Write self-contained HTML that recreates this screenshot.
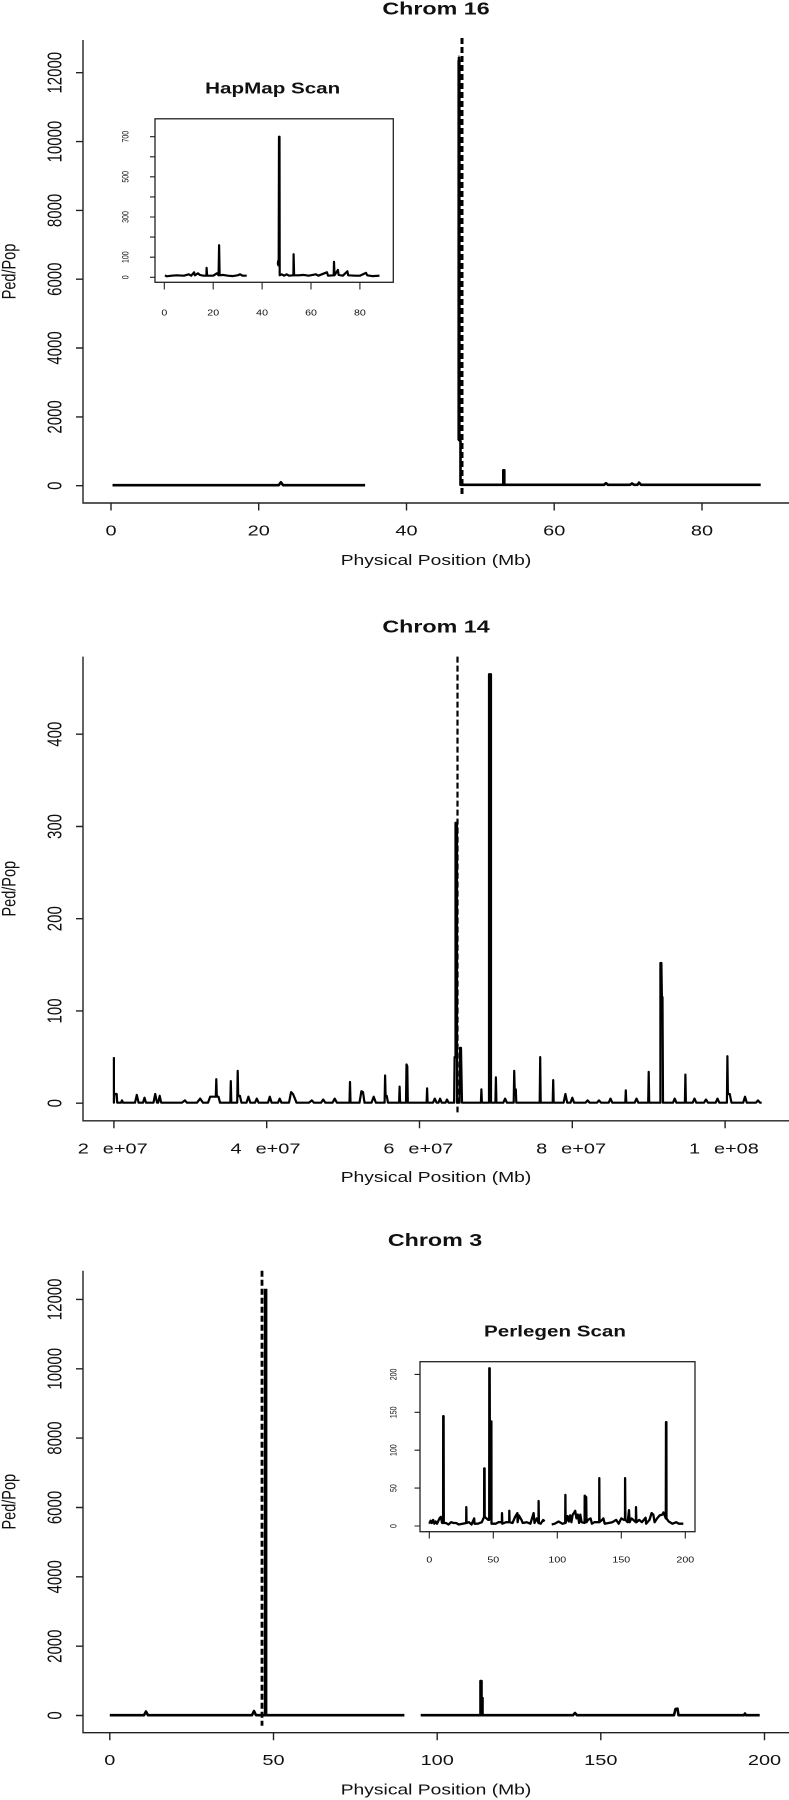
<!DOCTYPE html>
<html>
<head>
<meta charset="utf-8">
<style>
html,body{margin:0;padding:0;background:#fff;}
svg{display:block;}
text{font-family:"Liberation Sans",Arial,sans-serif;fill:#111;}
.t{font-size:17.5px;font-weight:bold;}
.ax{font-size:14.5px;}
.tk{font-size:15px;}
.it{font-size:15.5px;font-weight:bold;}
.sm{font-size:8px;}
.sy{font-size:7px;}
</style>
</head>
<body>
<svg width="789" height="1800" viewBox="0 0 789 1800" xmlns="http://www.w3.org/2000/svg">
<rect width="789" height="1800" fill="#fff"/>

<!-- ================= CHART 1 : Chrom 16 ================= -->
<text class="t" text-anchor="middle" transform="translate(436,14.5) scale(1.33,1)">Chrom 16</text>
<g stroke="#222" stroke-width="1.4" fill="none">
  <path d="M83,40V503H789"/>
  <path d="M76,485.7H83M76,416.9H83M76,348H83M76,279.2H83M76,210.4H83M76,141.6H83M76,72.7H83"/>
  <path d="M111,503V510.5M258.7,503V510.5M406.5,503V510.5M554.2,503V510.5M702,503V510.5"/>
</g>
<g class="tk" text-anchor="middle">
  <text transform="translate(61.7,485.7) scale(1.33,1) rotate(-90)">0</text>
  <text transform="translate(61.7,416.9) scale(1.33,1) rotate(-90)">2000</text>
  <text transform="translate(61.7,348) scale(1.33,1) rotate(-90)">4000</text>
  <text transform="translate(61.7,279.2) scale(1.33,1) rotate(-90)">6000</text>
  <text transform="translate(61.7,210.4) scale(1.33,1) rotate(-90)">8000</text>
  <text transform="translate(61.7,141.6) scale(1.33,1) rotate(-90)">10000</text>
  <text transform="translate(61.7,72.7) scale(1.33,1) rotate(-90)">12000</text>
  <text transform="translate(111,535.4) scale(1.33,1)">0</text>
  <text transform="translate(258.7,535.4) scale(1.33,1)">20</text>
  <text transform="translate(406.5,535.4) scale(1.33,1)">40</text>
  <text transform="translate(554.2,535.4) scale(1.33,1)">60</text>
  <text transform="translate(702,535.4) scale(1.33,1)">80</text>
</g>
<text class="ax" text-anchor="middle" transform="translate(15.4,271.5) scale(1.33,1) rotate(-90)">Ped/Pop</text>
<text class="ax" text-anchor="middle" transform="translate(436,564.9) scale(1.33,1)">Physical Position (Mb)</text>

<g stroke="#000" fill="none" stroke-width="2.6" stroke-linejoin="round">
  <path d="M112.5,485.2L278.7,485.2L280.9,482.3L283.1,485.2L365.1,485.2"/>
  <path d="M459,57L459,440L460.5,441L460.5,484.8L503.3,484.8L503.3,470.3L504.3,470.3L504.3,484.8L604,484.8L606,483.2L608,484.8L630,484.8L632,483.5L634,484.8L637.5,484.8L639,482.6L641,484.8L760.7,484.8"/>
  <path d="M458.5,57H459.5" stroke-width="3"/>
</g>
<path d="M459,60V440" stroke="#000" stroke-width="3.2"/>
<path d="M462,38V495" stroke="#000" stroke-width="3" stroke-dasharray="6 3"/>

<!-- Inset HapMap -->
<text class="it" text-anchor="middle" transform="translate(272.7,93.3) scale(1.33,1)">HapMap Scan</text>
<rect x="155" y="118.8" width="238.3" height="163.5" fill="none" stroke="#222" stroke-width="1.3"/>
<g stroke="#222" stroke-width="1.1" fill="none">
  <path d="M150,277.3H155M150,257.2H155M150,237.1H155M150,217H155M150,196.9H155M150,176.8H155M150,156.8H155M150,136.7H155"/>
  <path d="M164.3,282.3V289.5M213.2,282.3V289.5M262.1,282.3V289.5M311,282.3V289.5M359.9,282.3V289.5"/>
</g>
<g class="sy" text-anchor="middle">
  <text transform="translate(128.3,277.3) scale(1.33,1) rotate(-90)">0</text>
  <text transform="translate(128.3,257.2) scale(1.33,1) rotate(-90)">100</text>
  <text transform="translate(128.3,217) scale(1.33,1) rotate(-90)">300</text>
  <text transform="translate(128.3,176.8) scale(1.33,1) rotate(-90)">500</text>
  <text transform="translate(128.3,136.7) scale(1.33,1) rotate(-90)">700</text>
</g>
<g class="sm" text-anchor="middle">
  <text transform="translate(164.3,315.7) scale(1.33,1)">0</text>
  <text transform="translate(213.2,315.7) scale(1.33,1)">20</text>
  <text transform="translate(262.1,315.7) scale(1.33,1)">40</text>
  <text transform="translate(311,315.7) scale(1.33,1)">60</text>
  <text transform="translate(359.9,315.7) scale(1.33,1)">80</text>
</g>
<g stroke="#000" fill="none" stroke-width="2.2" stroke-linejoin="round">
  <polyline points="165,275.3 166.7,276.3 171.6,275.7 176.5,275.3 183.9,275.7 188.8,274.3 191.2,275.7 194.1,272.3 194.9,275.3 198,273.3 199.8,274.9 203.4,275.7 206.4,275.7 206.6,267.9 207.1,275.7 213.2,275.7 216.9,273.3 218.6,275.3 219.1,245.2 219.6,275.3 223,274.9 227.9,275.7 232.8,276.1 237.7,275.3 240.1,274.3 242.5,275.7 246.7,275.7"/>
  <polyline points="278.7,263.2 279,136.7 279.5,136.7 279.7,275.3 281.7,274.3 284.1,275.7 286.6,274.3 289,275.7 293.4,275.3 293.6,254.2 294.1,275.3 298.8,275.3 303.7,274.9 308.6,275.7 315.9,274.3 318.3,275.7 326.9,272.3 328.1,275.7 333.7,275.3 334,261.8 334.5,275.3 337.9,269.9 338.6,274.9 342.8,275.7 347.4,271.3 348.2,275.3 355,275.7 359.9,275.7 366,272.9 367.2,275.3 372.1,276.1 379.5,275.7"/>
</g>
<ellipse cx="278.4" cy="263" rx="1.6" ry="3.5" fill="#000"/>

<!-- ================= CHART 2 : Chrom 14 ================= -->
<text class="t" text-anchor="middle" transform="translate(436,632.5) scale(1.33,1)">Chrom 14</text>
<g stroke="#222" stroke-width="1.4" fill="none">
  <path d="M83,656.6V1120.8H789"/>
  <path d="M76,1103.2H83M76,1010.95H83M76,918.7H83M76,826.5H83M76,734.2H83"/>
  <path d="M113.9,1120.8V1128.3M266.7,1120.8V1128.3M419.5,1120.8V1128.3M572.3,1120.8V1128.3M725.1,1120.8V1128.3"/>
</g>
<g class="tk" text-anchor="middle">
  <text transform="translate(61.7,1103.2) scale(1.33,1) rotate(-90)">0</text>
  <text transform="translate(61.7,1010.95) scale(1.33,1) rotate(-90)">100</text>
  <text transform="translate(61.7,918.7) scale(1.33,1) rotate(-90)">200</text>
  <text transform="translate(61.7,826.5) scale(1.33,1) rotate(-90)">300</text>
  <text transform="translate(61.7,734.2) scale(1.33,1) rotate(-90)">400</text>
  <text transform="translate(83.3,1153.3) scale(1.33,1)">2</text>
  <text transform="translate(125.2,1153.3) scale(1.33,1)">e+07</text>
  <text transform="translate(236.1,1153.3) scale(1.33,1)">4</text>
  <text transform="translate(278,1153.3) scale(1.33,1)">e+07</text>
  <text transform="translate(388.9,1153.3) scale(1.33,1)">6</text>
  <text transform="translate(430.8,1153.3) scale(1.33,1)">e+07</text>
  <text transform="translate(541.7,1153.3) scale(1.33,1)">8</text>
  <text transform="translate(583.6,1153.3) scale(1.33,1)">e+07</text>
  <text transform="translate(694.5,1153.3) scale(1.33,1)">1</text>
  <text transform="translate(736.4,1153.3) scale(1.33,1)">e+08</text>
</g>
<text class="ax" text-anchor="middle" transform="translate(15.4,888.7) scale(1.33,1) rotate(-90)">Ped/Pop</text>
<text class="ax" text-anchor="middle" transform="translate(436,1182.1) scale(1.33,1)">Physical Position (Mb)</text>

<path fill="none" stroke="#000" stroke-width="2.2" stroke-linejoin="round" d="M113.9,1057.1 L113.9,1102.7 L114.3,1094 L116.7,1094 L117.2,1102.7 L121,1102.7 L122,1100.4 L123,1102.7 L135,1102.7 L136.8,1094.9 L138.6,1102.7 L143,1102.7 L144.5,1097.7 L146,1102.7 L153.5,1102.7 L155.2,1094 L157,1102.7 L158.2,1102.7 L159.7,1095.8 L161.2,1102.7 L182,1102.7 L184.9,1100.4 L187,1102.7 L197,1102.7 L200.2,1098.6 L203,1102.7 L208,1102.7 L210.2,1096.7 L215.8,1096.7 L216.3,1079.2 L216.8,1096.7 L218.5,1096.7 L220,1102.7 L230.3,1102.7 L230.8,1081.1 L231.3,1102.7 L237.2,1102.7 L237.7,1070.9 L238.2,1096 L239.9,1095.8 L241.5,1102.7 L246.5,1102.7 L248.4,1096.7 L250.3,1102.7 L255,1102.7 L256.8,1098.6 L258.6,1102.7 L268,1102.7 L269.8,1096.7 L271.6,1102.7 L278,1102.7 L279.7,1098.6 L281.4,1102.7 L289,1102.7 L291.1,1092.1 L293,1094 L294.9,1098.6 L296.5,1102.7 L309,1102.7 L311.8,1100.4 L314,1102.7 L321,1102.7 L323.2,1099.5 L325.4,1102.7 L332.5,1102.7 L334.7,1098.6 L336.9,1102.7 L349.5,1102.7 L350,1082 L350.5,1102.7 L359.5,1102.7 L361.4,1091.2 L363,1092.1 L364.5,1102.7 L371.5,1102.7 L373.7,1096.7 L375.9,1102.7 L384.6,1102.7 L385.1,1075.5 L385.6,1095.8 L386.7,1095.8 L388,1102.7 L399.1,1102.7 L399.6,1086.6 L400.1,1102.7 L406,1102.7 L406.5,1064.5 L407.3,1066.3 L407.8,1102.7 L426.6,1102.7 L427.1,1088.4 L427.6,1102.7 L433,1102.7 L434.8,1098.6 L436.6,1102.7 L438.5,1102.7 L440.1,1098.6 L441.7,1102.7 L445.5,1102.7 L447,1099.5 L448.5,1102.7 L454.1,1102.7 L454.6,1057.1 L455.5,1057.1 L455.5,822.8 L457,822.8 L457,1102.7 L459.5,1102.7 L460,1047.9 L461,1047.9 L461.5,1075.5 L462,1102.7 L480.9,1102.7 L481.4,1089.4 L481.9,1102.7 L489,1102.7 L489,674.2 L491,674.2 L491,1102.7 L495.4,1102.7 L495.9,1077.4 L496.4,1102.7 L503.3,1102.7 L505.1,1098.6 L506.9,1102.7 L513.7,1102.7 L514.2,1070.9 L514.7,1089.4 L515.8,1089.4 L516.3,1102.7 L539.7,1102.7 L540.2,1057.1 L540.7,1102.7 L552.7,1102.7 L553.2,1080.1 L553.7,1102.7 L563.6,1102.7 L565.4,1094 L567.2,1102.7 L570.5,1102.7 L572.3,1097.7 L574.1,1102.7 L585.5,1102.7 L587.6,1100.4 L589.7,1102.7 L597,1102.7 L599,1100.4 L601,1102.7 L608.7,1102.7 L610.5,1098.6 L612.3,1102.7 L625.3,1102.7 L625.8,1090.3 L626.3,1102.7 L634.7,1102.7 L636.5,1098.6 L638.3,1102.7 L648.2,1102.7 L648.7,1071.8 L649.2,1102.7 L660.4,1102.7 L660.4,963 L661.4,963 L661.9,997.1 L662.5,997.1 L663,1102.7 L673,1102.7 L674.7,1098.6 L676.4,1102.7 L684.9,1102.7 L685.4,1074.6 L685.9,1102.7 L692.7,1102.7 L694.5,1098.6 L696.3,1102.7 L704,1102.7 L706,1099.5 L708,1102.7 L715.7,1102.7 L717.5,1098.6 L719.3,1102.7 L726.9,1102.7 L727.4,1056.2 L727.9,1094 L729.7,1094 L731.5,1102.7 L743.2,1102.7 L745,1096.7 L746.8,1102.7 L756,1102.7 L758,1100.4 L760,1102.7 L761.7,1102.7"/>
<path d="M457.5,656.6V1112.4" stroke="#000" stroke-width="2.2" stroke-dasharray="6 3"/>

<!-- ================= CHART 3 : Chrom 3 ================= -->
<text class="t" text-anchor="middle" transform="translate(435,1245.9) scale(1.33,1)">Chrom 3</text>
<g stroke="#222" stroke-width="1.4" fill="none">
  <path d="M83,1270.7V1732.7H789"/>
  <path d="M76,1715.5H83M76,1646.2H83M76,1576.8H83M76,1507.5H83M76,1438.1H83M76,1368.8H83M76,1299.4H83"/>
  <path d="M109.8,1732.7V1740.2M273.5,1732.7V1740.2M437.2,1732.7V1740.2M600.8,1732.7V1740.2M764.5,1732.7V1740.2"/>
</g>
<g class="tk" text-anchor="middle">
  <text transform="translate(61.7,1715.5) scale(1.33,1) rotate(-90)">0</text>
  <text transform="translate(61.7,1646.2) scale(1.33,1) rotate(-90)">2000</text>
  <text transform="translate(61.7,1576.8) scale(1.33,1) rotate(-90)">4000</text>
  <text transform="translate(61.7,1507.5) scale(1.33,1) rotate(-90)">6000</text>
  <text transform="translate(61.7,1438.1) scale(1.33,1) rotate(-90)">8000</text>
  <text transform="translate(61.7,1368.8) scale(1.33,1) rotate(-90)">10000</text>
  <text transform="translate(61.7,1299.4) scale(1.33,1) rotate(-90)">12000</text>
  <text transform="translate(109.8,1765.2) scale(1.33,1)">0</text>
  <text transform="translate(273.5,1765.2) scale(1.33,1)">50</text>
  <text transform="translate(437.2,1765.2) scale(1.33,1)">100</text>
  <text transform="translate(600.8,1765.2) scale(1.33,1)">150</text>
  <text transform="translate(764.5,1765.2) scale(1.33,1)">200</text>
</g>
<text class="ax" text-anchor="middle" transform="translate(15.4,1501.7) scale(1.33,1) rotate(-90)">Ped/Pop</text>
<text class="ax" text-anchor="middle" transform="translate(436,1794.7) scale(1.33,1)">Physical Position (Mb)</text>

<g stroke="#000" fill="none" stroke-width="2.6" stroke-linejoin="round">
  <path d="M109.8,1715.2L144,1715.2L146,1711.5L148,1715.2L252,1715.2L254,1711L256,1715.2L404.4,1715.2"/>
  <path d="M420.7,1715.2L480.5,1715.2L480.5,1681L481.5,1681L481.5,1698L482.5,1698L482.5,1715.2L573,1715.2L575,1713L577,1715.2L674,1715.2L675.5,1709L677.5,1708.7L678.5,1715.2L744,1715.2L745,1713.5L746,1715.2L759.7,1715.2"/>
</g>
<path d="M265.6,1288.7V1715" stroke="#000" stroke-width="3.6"/>
<path d="M262,1270.7V1725.8" stroke="#000" stroke-width="2.8" stroke-dasharray="6 3"/>

<!-- Inset Perlegen -->
<text class="it" text-anchor="middle" transform="translate(555,1336.5) scale(1.33,1)">Perlegen Scan</text>
<rect x="420" y="1361.7" width="275" height="170" fill="none" stroke="#222" stroke-width="1.3"/>
<g stroke="#222" stroke-width="1.1" fill="none">
  <path d="M414.5,1526H420M414.5,1488.1H420M414.5,1450.2H420M414.5,1412.3H420M414.5,1374.4H420"/>
  <path d="M429.3,1531.7V1538.5M493.3,1531.7V1538.5M557.3,1531.7V1538.5M621.3,1531.7V1538.5M685.3,1531.7V1538.5"/>
</g>
<g class="sy" text-anchor="middle">
  <text transform="translate(396.3,1526) scale(1.33,1) rotate(-90)">0</text>
  <text transform="translate(396.3,1488.1) scale(1.33,1) rotate(-90)">50</text>
  <text transform="translate(396.3,1450.2) scale(1.33,1) rotate(-90)">100</text>
  <text transform="translate(396.3,1412.3) scale(1.33,1) rotate(-90)">150</text>
  <text transform="translate(396.3,1374.4) scale(1.33,1) rotate(-90)">200</text>
</g>
<g class="sm" text-anchor="middle">
  <text transform="translate(429.3,1562.5) scale(1.33,1)">0</text>
  <text transform="translate(493.3,1562.5) scale(1.33,1)">50</text>
  <text transform="translate(557.3,1562.5) scale(1.33,1)">100</text>
  <text transform="translate(621.3,1562.5) scale(1.33,1)">150</text>
  <text transform="translate(685.3,1562.5) scale(1.33,1)">200</text>
</g>
<g stroke="#000" fill="none" stroke-width="2.3" stroke-linejoin="round">
  <polyline points="429.3,1523.7 430.6,1520.7 431.9,1523 433.1,1519.9 434.4,1523.7 435.7,1521.5 437,1523.7 439.5,1518.4 440.8,1516.9 442.1,1523 443.1,1523 443.2,1416.1 443.6,1416.1 443.8,1523 445.9,1523 448.5,1524.5 451.1,1522.2 453.6,1523 456.2,1523 458.7,1524.5 462.6,1523.7 466.2,1523 466.3,1507.1 466.5,1523 469,1522.2 471.5,1524.5 474.2,1518.4 474.5,1523.7 477.9,1523.7 481.8,1522.2 484.1,1516.9 484.2,1468.4 484.6,1468.4 484.7,1516.9 488.2,1519.9 489.2,1519.9 489.3,1368.3 489.7,1368.3 490,1510.8 490.9,1510.8 491,1421.4 491.4,1421.4 491.5,1523.7 495.9,1523.7 498.4,1522.2 501.9,1522.2 502,1513.1 502.3,1523.7 506.1,1522.2 509.2,1522.2 509.3,1510.8 509.6,1522.2 512.5,1523 515.1,1516.9 517.4,1513.1 517.6,1522.2 518.9,1515.4 521.5,1519.9 522.7,1523 526.6,1522.2 530.4,1523.7 533.6,1513.1 534.5,1523 536.8,1518.4 538.5,1523 538.6,1501 538.9,1523 540.7,1523.7 543.2,1519.9 544.5,1521.5"/>
  <polyline points="551.7,1524.5 554.7,1523.7 558.6,1521.5 562.4,1523.7 565.2,1523 565.4,1494.9 565.6,1523 567.5,1516.1 568.8,1521.5 570.1,1515.4 571.4,1522.2 572.7,1514.6 573.9,1513.1 575.2,1510.8 576.5,1518.4 577.8,1514.6 579.1,1523 580.3,1514.6 581.6,1522.2 584.6,1523 584.7,1495.7 586.2,1497.2 586.5,1522.2 588,1519.9 590.6,1518.4 591.9,1523.7 594.4,1522.2 599.2,1522.2 599.3,1478.2 599.5,1522.2 602.1,1519.9 603.4,1518.4 604.7,1523.7 608.5,1523 612.3,1522.2 616.2,1519.9 618.7,1523.7 621.3,1518.4 623.9,1519.9 625,1519.9 625.1,1478.2 625.4,1519.9 627.7,1522.2 629,1510.1 629.6,1522.2 631.5,1518.4 635.9,1522.2 636,1507.1 636.4,1522.2 639.2,1519.9 641.8,1522.2 645.6,1517.7 646.1,1523.7 649.5,1519.9 651.6,1513.1 653.3,1514.6 654.6,1522.2 657.1,1518.4 659.7,1515.4 662.3,1514.6 663.5,1512.4 665.8,1518.4 666,1422.2 666.4,1422.2 666.5,1518.4 668.7,1521.5 672.5,1523.7 676.3,1522.2 678.9,1523.7 683.3,1523.7"/>
</g>
</svg>
</body>
</html>
